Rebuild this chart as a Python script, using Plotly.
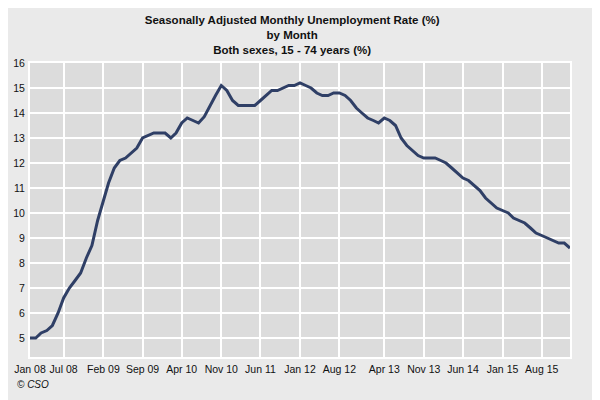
import pandas as pd
import plotly.graph_objects as go

# monthly, Jan 2008 - Jan 2016
months = pd.date_range("2008-01-01", "2016-01-01", freq="MS")
rate = [
    5.0, 5.0, 5.2, 5.3, 5.5, 6.0, 6.6, 7.0, 7.3, 7.6, 8.2, 8.7,
    9.7, 10.5, 11.2, 11.8, 12.1, 12.2, 12.4, 12.6, 13.0, 13.1, 13.2, 13.2,
    13.2, 13.0, 13.2, 13.6, 13.8, 13.7, 13.6, 13.85, 14.3, 14.7, 15.1, 14.9,
    14.5, 14.3, 14.3, 14.3, 14.3, 14.5, 14.7, 14.9, 14.9, 15.0, 15.1, 15.1,
    15.2, 15.1, 15.0, 14.8, 14.7, 14.7, 14.8, 14.8, 14.7, 14.5, 14.2, 14.0,
    13.8, 13.7, 13.6, 13.8, 13.7, 13.5, 13.0, 12.7, 12.5, 12.3, 12.2, 12.2,
    12.2, 12.1, 12.0, 11.8, 11.6, 11.4, 11.3, 11.1, 10.9, 10.6, 10.4, 10.2,
    10.1, 10.0, 9.8, 9.7, 9.6, 9.4, 9.2, 9.1, 9.0, 8.9, 8.8, 8.8,
    8.6,
]

tick_dates = ["2008-01-01", "2008-07-01", "2009-02-01", "2009-09-01", "2010-04-01",
              "2010-11-01", "2011-06-01", "2012-01-01", "2012-08-01", "2013-04-01",
              "2013-11-01", "2014-06-01", "2015-01-01", "2015-08-01"]
tick_labels = ["Jan 08", "Jul 08", "Feb 09", "Sep 09", "Apr 10", "Nov 10", "Jun 11",
               "Jan 12", "Aug 12", "Apr 13", "Nov 13", "Jun 14", "Jan 15", "Aug 15"]
y_ticks = list(range(5, 17))

fig = go.Figure()
fig.add_trace(go.Scatter(
    x=months, y=rate, mode="lines",
    line=dict(color="#2f3f66", width=3),
    hoverinfo="x+y",
))

# the page body adds an 8px offset, so size/margins are set a bit smaller
fig.update_layout(
    width=592, height=392,
    paper_bgcolor="#eaeaea",
    plot_bgcolor="#dcdcdc",
    margin=dict(l=22, r=30, t=55, b=43),
    font=dict(family="Liberation Sans, Arial, sans-serif", size=10.5, color="#111111"),
    title=dict(
        text="<b>Seasonally Adjusted Monthly Unemployment Rate (%)</b><br>"
             "<b>by Month</b><br><b>Both sexes, 15 - 74 years (%)</b>",
        x=0.48, xanchor="center", y=0.959, yanchor="top",
        font=dict(size=11.5, color="#111111"),
    ),
    showlegend=False,
)

fig.update_xaxes(
    range=[months[0], months[-1]],
    tickvals=tick_dates, ticktext=tick_labels,
    showgrid=True, gridcolor="white", gridwidth=1.5,
    showline=True, linecolor="white", linewidth=2, mirror=True,
    ticks="", zeroline=False, ticklabelstandoff=1, automargin=False,
)
fig.update_yaxes(
    range=[4.24, 16],
    tickvals=y_ticks,
    showgrid=True, gridcolor="white", gridwidth=1.5,
    showline=True, linecolor="white", linewidth=2, mirror=True,
    ticks="", zeroline=False, ticklabelstandoff=1, automargin=False,
)

fig.add_annotation(
    text="<i>© CSO</i>", xref="paper", yref="paper",
    x=-0.028, y=-0.095, xanchor="left", yanchor="middle", showarrow=False,
    font=dict(size=10, color="#111111"),
)

fig.write_html("out.html")
